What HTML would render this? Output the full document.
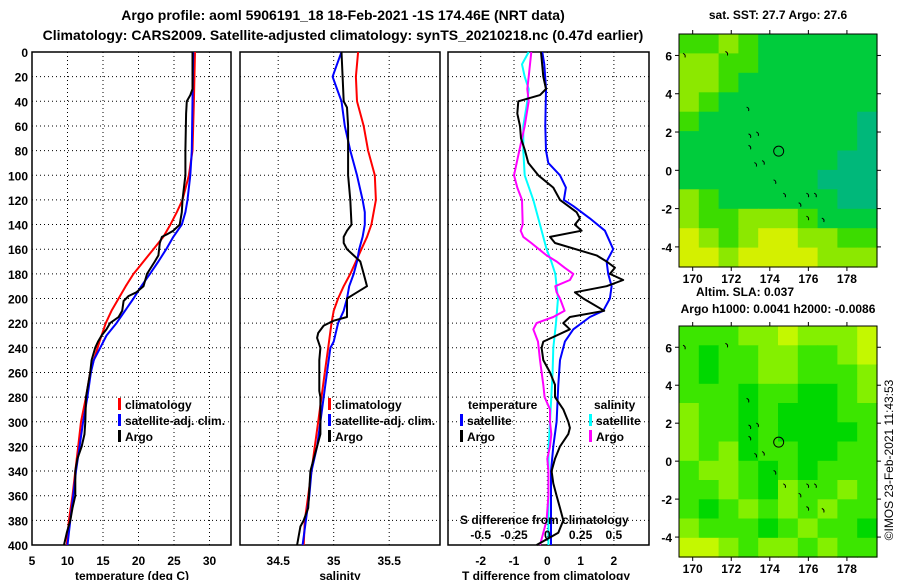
<!DOCTYPE html>
<html><head><meta charset="utf-8"><style>
html,body{margin:0;padding:0;background:#fff;}
svg{display:block;font-family:"Liberation Sans",sans-serif;font-weight:bold;}
</style></head><body>
<svg id="chart" width="900" height="580" viewBox="0 0 900 580" xmlns="http://www.w3.org/2000/svg">
<g font-size="14" text-anchor="middle">
<text x="343" y="20">Argo profile: aoml 5906191_18 18-Feb-2021 -1S 174.46E (NRT data)</text>
<text x="343" y="40">Climatology: CARS2009. Satellite-adjusted climatology: synTS_20210218.nc (0.47d earlier)</text>
</g>
<g id="layer"></g>
<text x="778" y="19" font-size="12" text-anchor="middle">sat. SST: 27.7 Argo: 27.6</text>
<text x="745" y="296" font-size="12" text-anchor="middle">Altim. SLA: 0.037</text>
<text x="778" y="313" font-size="12" text-anchor="middle">Argo h1000: 0.0041 h2000: -0.0086</text>
<text transform="translate(893,460) rotate(-90)" font-size="12" font-weight="normal" text-anchor="middle">©IMOS 23-Feb-2021 11:43:53</text>
</svg>
<script>
// ---------- data ----------
const depthTicks = [0,20,40,60,80,100,120,140,160,180,200,220,240,260,280,300,320,340,360,380,400];
const tempTicks = [5,10,15,20,25,30];
const salTicks = [34.5,35,35.5];
const tdiffTicks = [-2,-1,0,1,2];
const sdiffTickLabels = ["-0.5","-0.25","0","0.25","0.5"];
const sdiffTicks = [-0.5,-0.25,0,0.25,0.5];

const climTDepth = [0,40,80,100,120,130,140,150,160,175,180,190,200,210,220,235,250,260,280,300,320,340,360,380,400];
const climT = [27.96,27.8,27.6,27.1,26.2,25.4,24.5,23.5,22.1,20.0,19.3,18.2,17.2,16.2,15.4,14.5,13.7,13.2,12.6,11.9,11.5,11.1,10.7,10.2,9.9];
const satTDepth = [0,40,80,100,120,130,140,150,160,170,180,190,200,210,220,230,240,250,260,280,300,320,340,360,380,400];
const satT = [27.7,27.6,27.5,27.3,26.9,26.6,26.1,24.9,23.9,22.8,21.6,20.4,19.3,18.1,16.9,15.5,14.6,13.7,13.3,12.8,12.2,11.7,11.2,10.8,10.4,10.0];
const argoTDepth = [0,30,35,40,50,80,100,120,130,140,145,148,150,155,165,170,180,190,195,198,202,210,215,220,225,230,235,240,250,260,280,300,310,320,330,340,360,370,380,390,400];
const argoT = [27.6,27.6,27.3,26.8,26.7,26.6,26.6,26.2,26.1,25.8,24.9,24.0,23.3,23.0,22.8,22.3,21.2,20.7,19.7,18.6,17.9,17.7,17.2,16.0,15.5,14.8,14.3,13.9,13.4,13.2,12.6,12.5,12.4,12.0,11.4,11.1,11.1,10.7,10.4,9.9,9.5];

const climSDepth = [0,20,40,60,80,100,120,140,150,160,170,180,190,200,210,220,240,260,280,300,320,340,360,380,400];
const climS = [35.22,35.20,35.21,35.27,35.31,35.37,35.38,35.34,35.30,35.25,35.20,35.15,35.09,35.04,35.00,34.98,34.95,34.92,34.89,34.86,34.83,34.80,34.77,34.74,34.73];
const satSDepth = [0,10,20,30,40,60,80,100,120,130,140,150,160,170,180,190,200,210,220,235,240,260,280,300,320,340,360,380,400];
const satS = [35.07,35.03,34.99,35.03,35.07,35.10,35.15,35.21,35.26,35.28,35.28,35.26,35.23,35.21,35.18,35.14,35.12,35.09,35.04,35.00,34.97,34.94,34.91,34.88,34.85,34.80,34.78,34.75,34.72];
const argoSDepth = [0,40,45,60,80,100,120,140,145,150,155,160,165,170,180,190,195,200,215,218,222,228,232,240,250,275,280,310,320,330,340,370,380,385,395,400];
const argoS = [35.07,35.09,35.12,35.13,35.13,35.13,35.15,35.16,35.12,35.09,35.09,35.12,35.18,35.24,35.27,35.30,35.21,35.12,35.12,35.00,34.91,34.86,34.85,34.88,34.87,34.87,34.88,34.88,34.85,34.82,34.79,34.77,34.73,34.70,34.68,34.67];

const satTdDepth = [0,10,30,60,80,90,100,110,120,125,135,145,160,165,170,180,190,200,210,215,225,235,250,270,300,320,340,400];
const satTd = [-0.15,-0.09,-0.04,-0.06,-0.04,0.03,0.38,0.56,0.5,0.78,1.28,1.73,1.98,1.88,1.78,1.83,1.93,1.88,1.68,1.28,0.78,0.53,0.38,0.33,0.28,0.18,0.11,0.11];
const argoTdDepth = [0,20,30,35,40,50,60,70,80,90,100,110,120,130,135,140,145,150,155,165,170,175,180,185,190,195,200,210,215,220,225,235,240,250,260,270,280,290,300,305,310,320,330,340,350,360,370,380,390,400];
const argoTd = [-0.19,-0.12,-0.04,-0.22,-0.87,-0.9,-0.82,-0.79,-0.67,-0.57,-0.27,0.18,0.38,0.88,0.98,0.83,1.03,0.08,0.23,1.48,1.78,2.03,1.88,2.28,1.78,0.83,1.08,1.71,0.68,0.48,0.68,-0.12,-0.17,-0.12,0.08,0.23,0.23,0.48,0.63,0.68,0.63,0.38,0.23,0.13,0.18,0.28,0.38,0.48,0.33,-0.32];
const satSdDepth = [0,10,20,30,40,60,80,100,120,140,160,170,180,190,200,220,240,260,280,300,320,340,360,380,400];
const satSd = [-0.14,-0.19,-0.17,-0.14,-0.15,-0.18,-0.18,-0.17,-0.105,-0.055,-0.005,0.03,0.06,0.07,0.08,0.065,0.045,0.04,0.03,0.02,0.01,0.008,0.008,0.008,0.008];
const argoSdDepth = [0,20,30,40,60,80,100,110,120,140,145,150,155,165,170,175,180,185,190,195,200,210,215,220,225,235,250,270,280,290,300,310,320,330,340,360,380,390,400];
const argoSd = [-0.12,-0.14,-0.15,-0.14,-0.17,-0.21,-0.25,-0.225,-0.19,-0.185,-0.2,-0.18,-0.12,-0.005,0.07,0.13,0.195,0.17,0.06,0.07,0.095,0.13,0.045,-0.08,-0.105,-0.07,-0.055,-0.03,-0.02,0.02,0.02,0.03,0.02,0,0.008,0.008,-0.005,-0.03,-0.055];

const lonTicks = [170,172,174,176,178];
const latTicks = [-4,-2,0,2,4,6];
const sstGrid = [
[2,2,3,2,1,1,1,1,1,1],
[3,3,2,2,1,1,1,1,1,1],
[3,3,2,1,1,1,1,1,1,1],
[3,2,1,1,1,1,1,1,1,1],
[2,1,1,1,1,1,1,1,1,0],
[1,1,1,1,1,1,1,1,1,0],
[1,1,1,1,1,1,1,1,0,0],
[1,1,1,1,1,1,1,0,0,0],
[3,2,1,1,1,1,1,1,0,0],
[3,2,2,3,3,3,2,1,1,1],
[4,3,2,3,4,4,3,3,2,2],
[4,4,3,4,4,4,4,3,3,3]];
const slaGrid = [
[1,1,1,2,2,3,2,2,2,3],
[1,0,1,1,2,2,1,1,2,3],
[1,0,1,1,2,2,1,1,1,2],
[1,1,1,0,1,1,0,0,1,2],
[2,1,1,0,1,0,0,0,1,1],
[2,1,1,0,1,0,0,0,0,1],
[2,1,2,0,1,1,0,0,1,1],
[1,2,2,1,0,1,0,1,1,1],
[1,1,2,1,0,2,1,1,2,1],
[1,0,1,2,1,2,1,2,1,1],
[2,1,1,1,0,1,2,1,1,0],
[3,3,2,1,2,2,1,2,1,1]];
const floatLon = 174.46, floatLat = 1.0;

// ---------- axes ----------
const NS="http://www.w3.org/2000/svg";
const layer=document.getElementById('layer');
function el(tag,attrs,parent){const e=document.createElementNS(NS,tag);for(const k in attrs)e.setAttribute(k,attrs[k]);(parent||layer).appendChild(e);return e;}
const TOP=52, BOT=545;
const yD=d=>TOP+d*(BOT-TOP)/400;
const xT=t=>32+(t-5)*7.1;
const xS=s=>333.7+(s-35)*111;
const xTd=t=>547.3+t*33.3;
const xSd=s=>547.3+s*133.2;
const panels=[{x0:32,x1:231,name:'temperature-panel'},{x0:240,x1:440,name:'salinity-panel'},{x0:448,x1:649,name:'difference-panel'}];

function gridAndFrame(p,xt,xf,labels){
  const g=el('g',{});
  
  
  depthTicks.forEach(d=>{if(d>0&&d<400){const l=el('line',{x1:p.x0,x2:p.x1,y1:yD(d),y2:yD(d),stroke:'#000','stroke-width':1,'stroke-dasharray':'1,3'},g);}});
  xt.forEach(v=>{const x=xf(v);if(x>p.x0+1&&x<p.x1-1){const l=el('line',{x1:x,x2:x,y1:TOP,y2:BOT,stroke:'#000','stroke-width':1,'stroke-dasharray':'1,3'},g);}});
  xt.forEach((v,i)=>{const t=el('text',{x:xf(v),y:565,'font-size':12,'text-anchor':'middle'},g);t.textContent=labels?labels[i]:String(v);});
  const r=el('rect',{x:p.x0,y:TOP,width:p.x1-p.x0,height:BOT-TOP,fill:'none',stroke:'#000','stroke-width':1.5},g);
  
  return g;
}
const g1=gridAndFrame(panels[0],tempTicks,xT);
const g2=gridAndFrame(panels[1],salTicks,xS);
const g3=gridAndFrame(panels[2],tdiffTicks,xTd);
depthTicks.forEach(d=>{const t=el('text',{x:28,y:yD(d)+5,'font-size':12,'text-anchor':'end'});t.textContent=String(d);});
[['temperature (deg C)',132],['salinity',340],['T difference from climatology',546]].forEach(([s,x])=>{const t=el('text',{x:x,y:580,'font-size':12,'text-anchor':'middle'});t.textContent=s;});

function series(depths,vals,xf,color,name,g){
  const pts=depths.map((d,i)=>xf(vals[i]).toFixed(1)+','+yD(d).toFixed(1)).join(' ');
  const p=el('polyline',{points:pts,fill:'none',stroke:color,'stroke-width':2,'stroke-linejoin':'round'},g);
  
  
}
series(climTDepth,climT,xT,'#ff0000','climatology-temperature-line',g1);
series(satTDepth,satT,xT,'#0000ff','satellite-temperature-line',g1);
series(argoTDepth,argoT,xT,'#000000','argo-temperature-line',g1);
series(climSDepth,climS,xS,'#ff0000','climatology-salinity-line',g2);
series(satSDepth,satS,xS,'#0000ff','satellite-salinity-line',g2);
series(argoSDepth,argoS,xS,'#000000','argo-salinity-line',g2);
series(satSdDepth,satSd,xSd,'#00ffff','satellite-salinity-diff-line',g3);
series(argoSdDepth,argoSd,xSd,'#ff00ff','argo-salinity-diff-line',g3);
series(satTdDepth,satTd,xTd,'#0000ff','satellite-temperature-diff-line',g3);
series(argoTdDepth,argoTd,xTd,'#000000','argo-temperature-diff-line',g3);

function legendEntry(x,y,color,label,g){
  const gg=el('g',{},g);
  
  
  el('rect',{x:x,y:y-11,width:3,height:12,fill:color},gg);
  const t=el('text',{x:x+7,y:y,'font-size':12},gg);t.textContent=label;
}
legendEntry(118,409,'#ff0000','climatology',g1);
legendEntry(118,425,'#0000ff','satellite-adj. clim.',g1);
legendEntry(118,441,'#000000','Argo',g1);
legendEntry(328,409,'#ff0000','climatology',g2);
legendEntry(328,425,'#0000ff','satellite-adj. clim.',g2);
legendEntry(328,441,'#000000','Argo',g2);
[['temperature',468,409,'legend-title-temperature'],['salinity',594,409,'legend-title-salinity'],['S difference from climatology',460,524,'s-axis-title']].forEach(([s,x,y,n])=>{const t=el('text',{x:x,y:y,'font-size':12},g3);t.textContent=s;});
legendEntry(460,425,'#0000ff','satellite',g3);
legendEntry(460,441,'#000000','Argo',g3);
legendEntry(589,425,'#00ffff','satellite',g3);
legendEntry(589,441,'#ff00ff','Argo',g3);
sdiffTicks.forEach((v,i)=>{const t=el('text',{x:xSd(v),y:539,'font-size':12,'text-anchor':'middle'},g3);t.textContent=sdiffTickLabels[i];});

// ---------- maps ----------
const LON0=169.29,LON1=179.56,LAT0=7.12,LAT1=-5.05;
const sstColors=['#00b87a','#00cc3c','#3cdc00','#8ce800','#d4f000'];
const slaColors=['#00d800','#3ce600','#84f000','#c4f800'];
function map(y0,y1,grid,colors,name){
  const x0=679,x1=877;
  const g=el('g',{});
  
  
  const xf=lon=>x0+(lon-LON0)*(x1-x0)/(LON1-LON0);
  const yf=lat=>y0+(LAT0-lat)*(y1-y0)/(LAT0-LAT1);
  const rows=grid.length,cols=grid[0].length;
  const cw=(x1-x0)/cols,ch=(y1-y0)/rows;
  grid.forEach((row,r)=>row.forEach((v,c)=>{
    const cell=el('rect',{x:(x0+c*cw).toFixed(1),y:(y0+r*ch).toFixed(1),width:(cw+0.6).toFixed(1),height:(ch+0.6).toFixed(1),fill:colors[v]},g);
    
    
  }));
  // islands
  [[169.6,6.0],[171.8,6.1],[172.9,3.2],[173.0,1.8],[173.4,1.9],[173.0,1.2],[173.3,0.3],[173.7,0.4],[174.3,-0.6],[174.8,-1.3],[175.6,-1.8],[176.0,-1.3],[176.4,-1.3],[176.0,-2.5],[176.8,-2.6]].forEach(([lo,la])=>{
    const d=el('path',{d:`M${xf(lo)-2},${yf(la)-2} q3,1 2,4`,stroke:'#000','stroke-width':1,fill:'none'},g);
    
  });
  const c=el('circle',{cx:xf(floatLon),cy:yf(floatLat),r:5,fill:'none',stroke:'#000','stroke-width':1},g);
  
  const fr=el('rect',{x:x0,y:y0,width:x1-x0,height:y1-y0,fill:'none',stroke:'#000','stroke-width':1},g);
  
  latTicks.forEach(la=>{const y=yf(la);
    el('line',{x1:x1,x2:x1+4,y1:y,y2:y,stroke:'#000'},g);el('line',{x1:x0-4,x2:x0,y1:y,y2:y,stroke:'#000'},g);
    const t=el('text',{x:672,y:y+5,'font-size':12,'text-anchor':'end'},g);t.textContent=String(la);});
  lonTicks.forEach(lo=>{const x=xf(lo);
    el('line',{x1:x,x2:x,y1:y0-4,y2:y0,stroke:'#000'},g);el('line',{x1:x,x2:x,y1:y1,y2:y1+4,stroke:'#000'},g);
    const t=el('text',{x:x,y:y1+16,'font-size':12,'text-anchor':'middle'},g);t.textContent=String(lo);});
}
map(34,267,sstGrid,sstColors,'sst-map');
map(326,557,slaGrid,slaColors,'sla-map');
</script>
</body></html>
